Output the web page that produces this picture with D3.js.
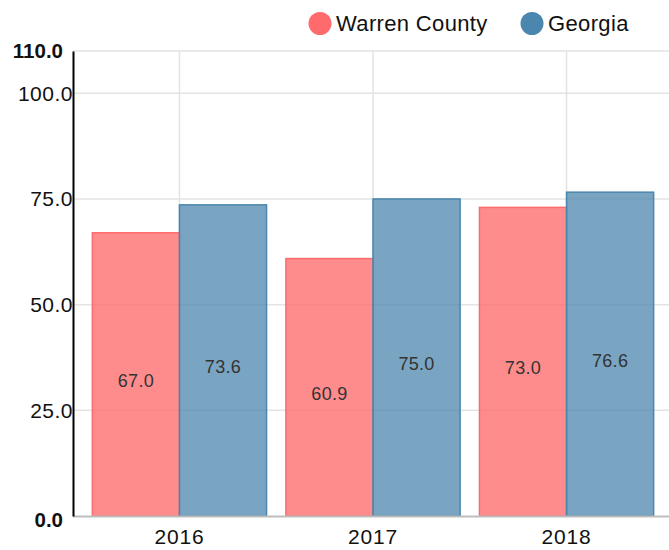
<!DOCTYPE html>
<html>
<head>
<meta charset="utf-8">
<script src="https://cdn.jsdelivr.net/npm/d3@7"></script>
<style>
  html, body { margin: 0; padding: 0; background: #fff; }
  svg { display: block; font-family: "Liberation Sans", Arial, Helvetica, sans-serif; }
</style>
</head>
<body>
<svg id="chart" width="669" height="550"></svg>
<script>
const categories = ["2016", "2017", "2018"];
const seriesNames = ["Warren County", "Georgia"];
const warrenCounty = [67.0, 60.9, 73.0];
const georgia = [73.6, 75.0, 76.6];
const yTicks = [0, 25, 50, 75, 100, 110];
const colors = ["#ff6b6d", "#4a86ad"];

const svg = d3.select("#chart");
const W = 669, H = 550;
const m = { left: 73, top: 51, bottom: 516 };
const plotRight = 673;

const x = d3.scaleBand().domain(categories).range([m.left, plotRight]).paddingInner(0.1).paddingOuter(0.1);
const x1 = d3.scaleBand().domain(seriesNames).range([0, x.bandwidth()]);
const y = d3.scaleLinear().domain([0, 110]).range([m.bottom, m.top]);

// horizontal grid
svg.append("g").selectAll("line").data(yTicks.filter(d => d > 0)).join("line")
  .attr("x1", m.left).attr("x2", W)
  .attr("y1", d => y(d)).attr("y2", d => y(d))
  .attr("stroke", "#e3e3e3").attr("stroke-width", 1.5);

// vertical grid
svg.append("g").selectAll("line").data(categories).join("line")
  .attr("x1", d => x(d) + x.bandwidth() / 2).attr("x2", d => x(d) + x.bandwidth() / 2)
  .attr("y1", m.top).attr("y2", m.bottom)
  .attr("stroke", "#e3e3e3").attr("stroke-width", 1.5);

const data = categories.map((c, i) => ({ cat: c, vals: [warrenCounty[i], georgia[i]] }));

const groups = svg.append("g").selectAll("g").data(data).join("g")
  .attr("transform", d => `translate(${x(d.cat)},0)`);

groups.selectAll("rect").data(d => d.vals.map((v, j) => ({ v, s: seriesNames[j], j }))).join("rect")
  .attr("x", d => x1(d.s))
  .attr("y", d => y(d.v))
  .attr("width", x1.bandwidth())
  .attr("height", d => y(0) - y(d.v))
  .attr("fill", d => colors[d.j])
  .attr("fill-opacity", d => d.j === 0 ? 0.78 : 0.74)
  .attr("stroke", d => colors[d.j])
  .attr("stroke-width", 1.5);

groups.selectAll("text").data(d => d.vals.map((v, j) => ({ v, s: seriesNames[j], j }))).join("text")
  .attr("x", d => x1(d.s) + x1.bandwidth() / 2)
  .attr("y", d => (y(d.v) + y(0)) / 2 + 12.5)
  .attr("text-anchor", "middle")
  .attr("font-size", 18)
  .attr("letter-spacing", 0.3)
  .attr("fill", "#333")
  .text(d => d.v.toFixed(1));

// bottom axis line
svg.append("line").attr("x1", m.left).attr("x2", W).attr("y1", y(0) + 0.5).attr("y2", y(0) + 0.5)
  .attr("stroke", "#bdbdbd").attr("stroke-width", 2);

// y axis
const isBold = d => d === 0 || d === 110;
const yAxis = d3.axisLeft(y).tickValues(yTicks).tickSize(0).tickPadding(0).tickFormat(d3.format(".1f"));
const ya = svg.append("g").attr("transform", `translate(${m.left},0)`).call(yAxis);
ya.select(".domain").attr("stroke", "#000").attr("stroke-width", 2);
ya.selectAll("text")
  .attr("font-family", null)
  .attr("fill", "#111")
  .attr("font-size", d => isBold(d) ? 20.5 : 21)
  .attr("letter-spacing", d => isBold(d) ? 0 : 0.5)
  .attr("font-weight", d => isBold(d) ? "bold" : "normal")
  .attr("x", d => isBold(d) ? -10 : 0)
  .attr("dy", d => d === 0 ? "0.5em" : "0.33em");

// x axis
const xAxis = d3.axisBottom(x).tickSize(0).tickPadding(13.5);
const xa = svg.append("g").attr("transform", `translate(0,${m.bottom})`).call(xAxis);
xa.select(".domain").remove();
xa.selectAll("text").attr("font-size", 21).attr("letter-spacing", 0.8).attr("fill", "#111").attr("font-family", null);

// legend
const legendX = [320, 532];
const lg = svg.append("g").selectAll("g").data(seriesNames).join("g")
  .attr("transform", (d, i) => `translate(${legendX[i]},23.5)`);
lg.append("circle").attr("r", 11.5).attr("fill", (d, i) => colors[i]);
lg.append("text").attr("x", 16).attr("y", 7.5).attr("font-size", 22).attr("letter-spacing", 0.35).attr("fill", "#111").text(d => d);
</script>
</body>
</html>
